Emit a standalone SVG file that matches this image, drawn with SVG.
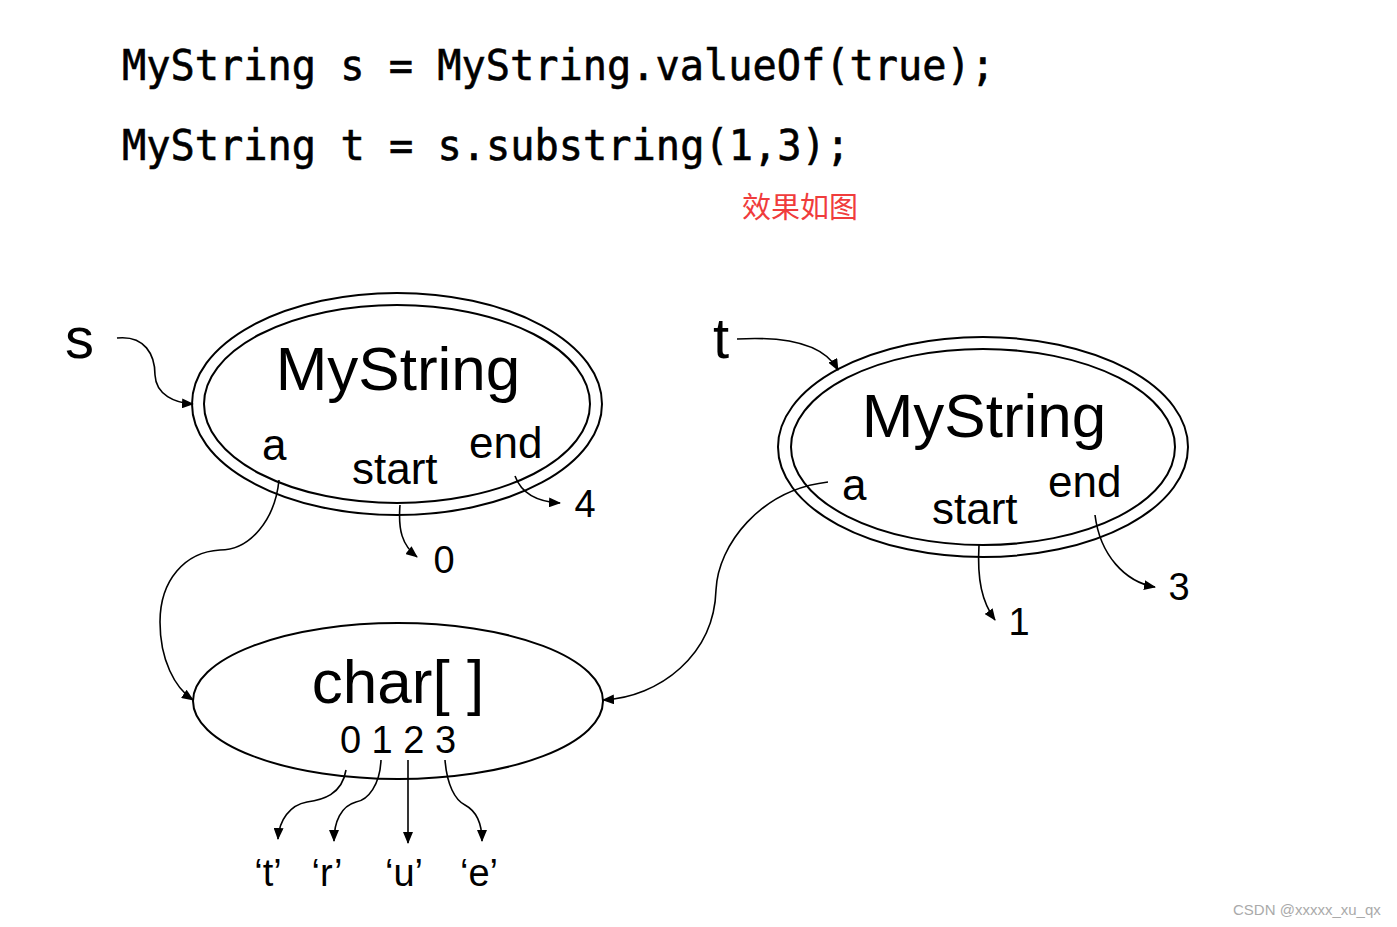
<svg xmlns="http://www.w3.org/2000/svg" width="1397" height="927" viewBox="0 0 1397 927">
<style>
.code{font-family:"DejaVu Sans Mono","Liberation Mono",monospace;font-size:42px;fill:#000;stroke:#000;stroke-width:0.6}
.lbl{font-family:"Liberation Sans",Arial,sans-serif;fill:#000}
.big{font-size:62px}
.mid{font-size:44px}
.sm{font-size:38px}
.ell{fill:none;stroke:#000;stroke-width:2}
.con{fill:none;stroke:#000;stroke-width:1.6}
</style>
<defs>
<marker id="ah" markerUnits="userSpaceOnUse" markerWidth="12" markerHeight="10" refX="11" refY="5" orient="auto">
<path d="M0,0 L12,5 L0,10 Z" fill="#000"/>
</marker>
</defs>
<rect width="1397" height="927" fill="#fff"/>
<g id="code">
<text class="code" x="122" y="80" textLength="873" lengthAdjust="spacingAndGlyphs">MyString s = MyString.valueOf(true);</text>
<text class="code" x="122" y="160" textLength="728" lengthAdjust="spacingAndGlyphs">MyString t = s.substring(1,3);</text>
<text x="742" y="218" font-family="'Noto Sans CJK SC',sans-serif" font-size="29" fill="#f03c3c">效果如图</text>
</g>
<g id="var-s"><text class="lbl" x="65" y="358" font-size="58">s</text></g>
<g id="var-t"><text class="lbl" x="713" y="358" font-size="58">t</text></g>
<g id="mystring-s">
<ellipse class="ell" cx="397" cy="404" rx="205" ry="111"/>
<ellipse class="ell" cx="397" cy="404" rx="193" ry="99"/>
<text class="lbl big" x="398" y="390" text-anchor="middle">MyString</text>
<text class="lbl mid" x="262" y="460">a</text>
<text class="lbl mid" x="352" y="484">start</text>
<text class="lbl mid" x="469" y="458">end</text>
</g>
<g id="mystring-t">
<ellipse class="ell" cx="983" cy="447" rx="205" ry="110"/>
<ellipse class="ell" cx="983" cy="447" rx="192" ry="98"/>
<text class="lbl big" x="984" y="437" text-anchor="middle">MyString</text>
<text class="lbl mid" x="842" y="500">a</text>
<text class="lbl mid" x="932" y="524">start</text>
<text class="lbl mid" x="1048" y="497">end</text>
</g>
<g id="chararray">
<ellipse class="ell" cx="398" cy="701" rx="205" ry="78"/>
<text class="lbl big" x="398" y="703" text-anchor="middle">char[ ]</text>
<text class="lbl sm" x="398" y="753" text-anchor="middle">0 1 2 3</text>
</g>
<g id="values">
<text class="lbl sm" x="444" y="573" text-anchor="middle">0</text>
<text class="lbl sm" x="585" y="517" text-anchor="middle">4</text>
<text class="lbl sm" x="1019" y="635" text-anchor="middle">1</text>
<text class="lbl sm" x="1179" y="600" text-anchor="middle">3</text>
<text class="lbl sm" x="268" y="886" text-anchor="middle">‘t’</text>
<text class="lbl sm" x="327" y="886" text-anchor="middle">‘r’</text>
<text class="lbl sm" x="404" y="886" text-anchor="middle">‘u’</text>
<text class="lbl sm" x="479" y="886" text-anchor="middle">‘e’</text>
</g>
<g id="connectors">
<path class="con" marker-end="url(#ah)" d="M117,338 C145,335 155,355 155,375 C156,395 175,403 193,404"/>
<path class="con" marker-end="url(#ah)" d="M737,339 C790,336 825,346 838,370"/>
<path class="con" marker-end="url(#ah)" d="M279,480 C275,520 250,550 220,550 C185,552 160,580 160,622 C160,660 175,688 193,700"/>
<path class="con" marker-end="url(#ah)" d="M400,505 C398,530 402,545 417,557"/>
<path class="con" marker-end="url(#ah)" d="M515,476 C522,495 540,502 560,503"/>
<path class="con" marker-end="url(#ah)" d="M828,482 C760,490 718,545 716,590 C714,655 660,697 603,700"/>
<path class="con" marker-end="url(#ah)" d="M979,545 C977,580 982,602 995,620"/>
<path class="con" marker-end="url(#ah)" d="M1095,515 C1100,555 1125,582 1155,587"/>
<path class="con" marker-end="url(#ah)" d="M346,770 C342,795 322,800 307,802 C290,805 279,820 278,839"/>
<path class="con" marker-end="url(#ah)" d="M381,760 C380,785 368,800 356,802 C341,806 334,822 334,841"/>
<path class="con" marker-end="url(#ah)" d="M408,760 L408,843"/>
<path class="con" marker-end="url(#ah)" d="M445,760 C447,785 455,800 465,805 C478,812 482,825 482,841"/>
</g>
<g id="watermark"><text x="1233" y="915" font-family="'Liberation Sans',Arial,sans-serif" font-size="15" fill="#aaa">CSDN @xxxxx_xu_qx</text></g>
</svg>
